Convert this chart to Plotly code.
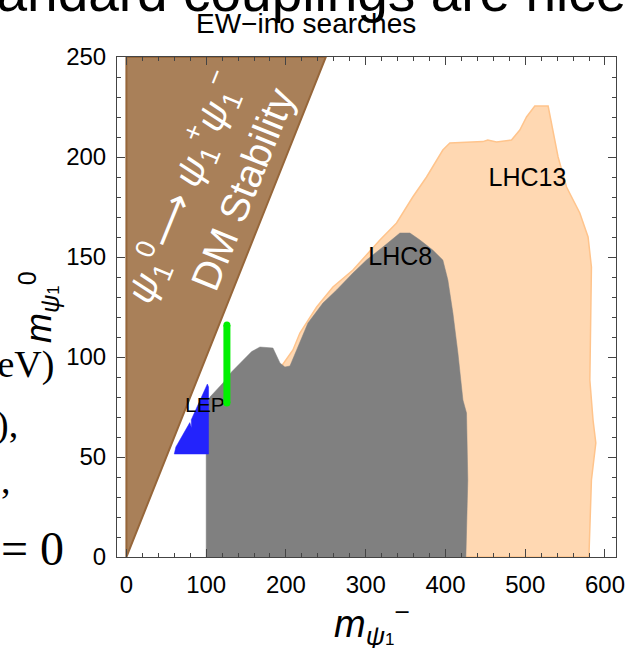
import plotly.graph_objects as go

# ---- exclusion regions in the (m_psi1-, m_psi1^0) plane, GeV ----
# DM stability wedge: m_psi1^0 > m_psi1- lets psi1^0 -> psi1^+ psi1^-
stab_x = [0, 0, 250, 0]
stab_y = [0, 250, 250, 0]

# LHC 13 TeV electroweakino limits
lhc13_x = [200, 193.7, 208.8, 217.5, 238.5, 258.9, 284, 317.8, 338.7, 359, 376.3,
           396.7, 405.5, 446.9, 453, 464, 482.8, 493.2, 501.6, 512, 528.7, 535,
           541.2, 551.8, 568.4, 578.8, 583, 581, 585, 588.5, 583, 580, 579.7, 200]
lhc13_y = [0, 95, 103.5, 112, 125, 135, 143.5, 158.5, 167, 180, 190,
           203.5, 207, 207.7, 208.5, 207.5, 208.5, 213.5, 220, 225.5, 225.5, 212,
           200, 185, 172, 160, 145, 88.5, 68.5, 57, 38.5, 2, 0, 0]

# LHC 8 TeV electroweakino limits
lhc8_x = [100, 100, 104.8, 121, 132, 142.4, 157, 167.4, 183.7, 192.5, 198.7, 205,
          227.6, 246.4, 263.5, 284, 301, 321.6, 342.9, 355.4, 368, 384, 396.7,
          403, 409.3, 415.6, 421.9, 426.4, 428, 425.6, 100]
lhc8_y = [0, 73.5, 80, 87, 92.6, 97, 102.7, 105, 104.5, 97, 95, 95.5,
          117, 127, 133.5, 142, 148.5, 155, 162, 162, 158.5, 153.5, 148.5,
          138.5, 122, 102, 78.5, 72, 38.5, 0, 0]

# LEP chargino limit
lep_x = [60, 103, 103, 101.5, 81.3, 81.6, 79.5, 62, 60]
lep_y = [51.5, 51.5, 85, 86.5, 68.6, 64.5, 67.2, 55, 51.5]

# single benchmark segment
seg_x = [126, 126]
seg_y = [77, 116]

# region labels
label_text = ["LHC13", "LHC8", "LEP"]
label_x = [502.8, 343.4, 98.4]
label_y = [188.5, 149, 75]

SANS = "Liberation Sans, Arial, sans-serif"
SERIF = "Liberation Serif, Times New Roman, serif"

W, H = 627, 648
# plot frame in page pixels
FL, FR, FT, FB = 117, 616, 57, 557


def fx(xp):
    return xp / W


def fy(yp):
    return 1 - yp / H


fig = go.Figure()

fig.add_trace(go.Scatter(x=stab_x, y=stab_y, fill="toself", mode="lines",
                         fillcolor="rgb(169,128,89)",
                         line=dict(color="rgb(150,102,58)", width=2),
                         hoverinfo="skip", showlegend=False))
fig.add_trace(go.Scatter(x=lhc13_x, y=lhc13_y, fill="toself", mode="lines",
                         fillcolor="rgb(255,216,178)",
                         line=dict(color="rgb(255,196,140)", width=1.5),
                         hoverinfo="skip", showlegend=False))
fig.add_trace(go.Scatter(x=lhc8_x, y=lhc8_y, fill="toself", mode="lines",
                         fillcolor="rgb(128,128,128)",
                         line=dict(color="rgb(128,128,128)", width=0.5),
                         hoverinfo="skip", showlegend=False))
fig.add_trace(go.Scatter(x=lep_x, y=lep_y, fill="toself", mode="lines",
                         fillcolor="rgb(35,35,252)",
                         line=dict(color="rgb(35,35,252)", width=0.5),
                         hoverinfo="skip", showlegend=False))
fig.add_trace(go.Scatter(x=label_x, y=label_y, mode="text", text=label_text,
                         textposition="middle center",
                         textfont=dict(family=SANS, size=[25, 25, 21], color="black"),
                         hoverinfo="skip", showlegend=False))
fig.add_trace(go.Scatter(x=seg_x, y=seg_y, mode="lines+markers",
                         line=dict(color="rgb(0,240,0)", width=7),
                         marker=dict(color="rgb(0,240,0)", size=7),
                         hoverinfo="skip", showlegend=False))

# page text running off the top edge, on a full-page pixel layer
fig.add_trace(go.Scatter(x=[290], y=[25], mode="text",
                         text=["standard couplings are nice"],
                         textposition="top center",
                         textfont=dict(family=SANS, size=55, color="black"),
                         xaxis="x2", yaxis="y2", cliponaxis=True,
                         hoverinfo="skip", showlegend=False))

axis_common = dict(
    ticks="inside", ticklen=8, tickwidth=1, tickcolor="#444",
    showline=True, linecolor="#444", linewidth=1, mirror="ticks",
    showgrid=False, zeroline=False, automargin=False,
    tickfont=dict(family=SANS, size=24, color="black"),
)

fig.update_layout(
    xaxis=dict(domain=[FL / W, FR / W], range=[-11.8, 613.8], tick0=0, dtick=100,
               minor=dict(dtick=20, ticks="inside", ticklen=4, tickcolor="#444"),
               ticklabelstandoff=6, **axis_common),
    yaxis=dict(domain=[1 - FB / H, 1 - FT / H], range=[0, 250], tick0=0, dtick=50,
               minor=dict(dtick=10, ticks="inside", ticklen=4, tickcolor="#444"),
               ticklabelstandoff=5, **axis_common),
    xaxis2=dict(domain=[0, 1], range=[0, W], visible=False, anchor="y2",
                fixedrange=True),
    yaxis2=dict(domain=[0, 1], range=[H, 0], visible=False, anchor="x2",
                fixedrange=True),
)

SMALL = "<span style='font-size:17px'>1</span>"

ann = []
# wedge captions
ann.append(dict(x=72, y=185, xref="x", yref="y", showarrow=False, textangle=-68,
                xanchor="center", yanchor="middle",
                text="<i>ψ</i><sub>1</sub><sup>0</sup>⟶ <i>ψ</i><sub>1</sub><sup>+</sup><i>ψ</i><sub>1</sub><sup>−</sup>",
                font=dict(family=SANS, size=39, color="white")))
ann.append(dict(x=146, y=184, xref="x", yref="y", showarrow=False, textangle=-68,
                xanchor="center", yanchor="middle",
                text="DM Stability",
                font=dict(family=SANS, size=40, color="white")))
# title and axis titles
ann.append(dict(x=fx(305.5), y=fy(24), xref="paper", yref="paper", showarrow=False,
                xanchor="center", yanchor="middle",
                text="EW−ino searches", font=dict(family=SANS, size=28, color="black")))
ann.append(dict(x=fx(372), y=fy(624), xref="paper", yref="paper", showarrow=False,
                xanchor="center", yanchor="middle",
                text="<i>m</i><sub><i>ψ</i>" + SMALL + "</sub><sup>−</sup>",
                font=dict(family=SANS, size=38, color="black")))
ann.append(dict(x=fx(38), y=fy(307), xref="paper", yref="paper", showarrow=False,
                xanchor="center", yanchor="middle", textangle=-90,
                text="<i>m</i><sub><i>ψ</i>" + SMALL + "</sub><sup>0</sup>",
                font=dict(family=SANS, size=36, color="black")))
# surrounding page text at the left edge
ann.append(dict(x=fx(56), y=fy(364), xref="paper", yref="paper", showarrow=False,
                xanchor="right", yanchor="middle", text="GeV)",
                font=dict(family=SERIF, size=38, color="black")))
ann.append(dict(x=fx(20), y=fy(424), xref="paper", yref="paper", showarrow=False,
                xanchor="right", yanchor="middle", text="),",
                font=dict(family=SERIF, size=38, color="black")))
ann.append(dict(x=fx(13), y=fy(480), xref="paper", yref="paper", showarrow=False,
                xanchor="right", yanchor="middle", text=",",
                font=dict(family=SERIF, size=38, color="black")))
ann.append(dict(x=fx(66), y=fy(548), xref="paper", yref="paper", showarrow=False,
                xanchor="right", yanchor="middle", text="= 0",
                font=dict(family=SERIF, size=48, color="black")))

fig.update_layout(
    width=W, height=H,
    margin=dict(l=0, r=0, t=0, b=0, pad=0),
    paper_bgcolor="white", plot_bgcolor="rgba(0,0,0,0)",
    annotations=ann, showlegend=False,
)

fig.write_html("out.html")
